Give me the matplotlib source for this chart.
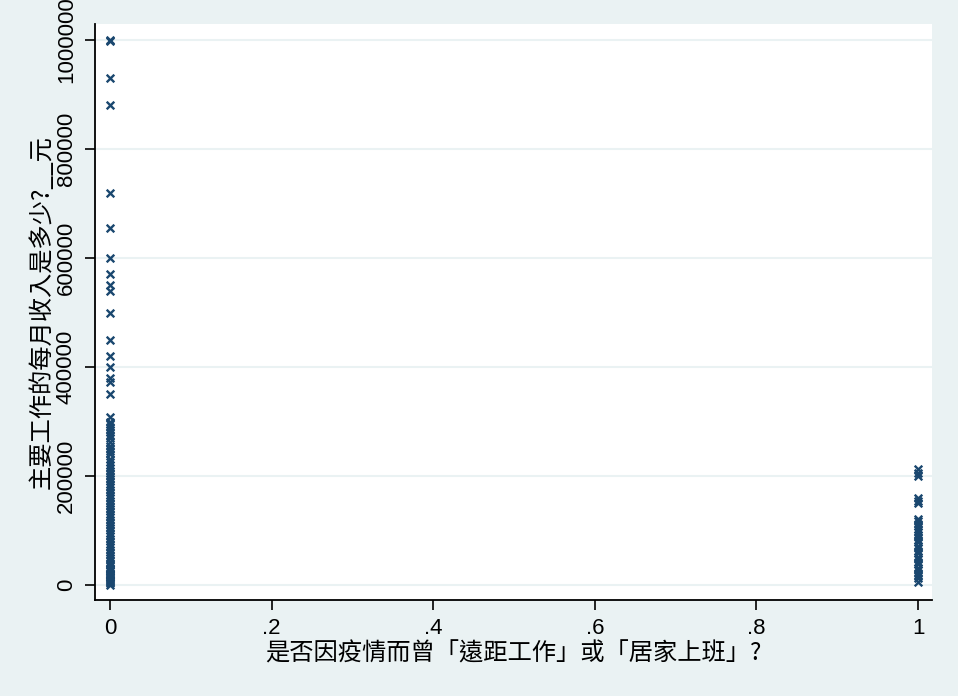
import matplotlib
matplotlib.use("Agg")
from matplotlib import pyplot as plt

# monthly income of main job, grouped by remote work (0 = no, 1 = yes)
income_no_remote = [
    1000000, 998000, 930000, 880000, 720000, 655000, 600000, 570000, 550000,
    540000, 500000, 450000, 420000, 400000, 380000, 372000, 350000,
    308000, 300000, 295000, 290000, 285000, 280000, 275000, 270000, 262000,
    255000, 250000, 245000, 240000, 232000, 225000, 220000, 215000, 210000,
    205000, 200000, 195000, 190000, 185000, 180000, 175000, 170000, 165000,
    160000, 155000, 150000, 145000, 140000, 135000, 130000, 125000, 120000,
    115000, 110000, 105000, 100000, 95000, 90000, 85000, 80000, 75000, 70000,
    65000, 60000, 55000, 50000, 45000, 40000, 36000, 32000, 30000, 28000,
    25000, 22000, 20000, 18000, 15000, 12000, 10000, 8000, 5000, 3000, 0,
]
income_remote = [
    212000, 205000, 200000, 160000, 154000, 150000, 122000, 118000, 112000,
    108000, 102000, 98000, 92000, 88000, 82000, 78000, 72000, 68000, 62000,
    58000, 52000, 48000, 42000, 38000, 32000, 28000, 22000, 18000, 12000,
    5000,
]
y_ticks = [0, 200000, 400000, 600000, 800000, 1000000]
y_tick_labels = ["0", "200000", "400000", "600000", "800000", "1000000"]
x_ticks = [0, 0.2, 0.4, 0.6, 0.8, 1]
x_tick_labels = ["0", ".2", ".4", ".6", ".8", "1"]

bg = "#EAF2F3"
navy = "#1A476F"

plt.rcParams['font.family'] = ['Liberation Sans', 'Noto Sans CJK TC', 'DejaVu Sans']

fig = plt.figure(figsize=(9.58, 6.96), dpi=100, facecolor=bg)
ax = fig.add_axes([95 / 958, 96 / 696, 837 / 958, 576 / 696])
ax.set_facecolor("white")

ax.scatter([0] * len(income_no_remote), income_no_remote, marker="x", s=30,
           color=navy, linewidths=1.7, zorder=3)
ax.scatter([1] * len(income_remote), income_remote, marker="x", s=30,
           color=navy, linewidths=1.7, zorder=3)

ax.set_xlim(-0.0186, 1.0173)
ax.set_ylim(-27523, 1029358)

ax.set_yticks(y_ticks)
ax.set_yticklabels(y_tick_labels, rotation=90, va="center")
ax.set_xticks(x_ticks)
ax.set_xticklabels(x_tick_labels)
ax.tick_params(axis="both", direction="out", length=7, width=1.2,
               labelsize=16, pad=6, color="black")

ax.grid(axis="y", color=bg, linewidth=1.5, zorder=0)
ax.set_axisbelow(True)

for side in ["top", "right"]:
    ax.spines[side].set_visible(False)
for side in ["left", "bottom"]:
    ax.spines[side].set_linewidth(1.3)

ax.set_xlabel("是否因疫情而曾「遠距工作」或「居家上班」?", fontsize=17.5,
              family=['Noto Sans CJK TC', 'DejaVu Sans'], labelpad=1)
ax.set_ylabel("主要工作的每月收入是多少?__元", fontsize=17.5,
              family=['Noto Sans CJK TC', 'DejaVu Sans'], labelpad=1)

fig.savefig("out.png", dpi=100, facecolor=bg)
